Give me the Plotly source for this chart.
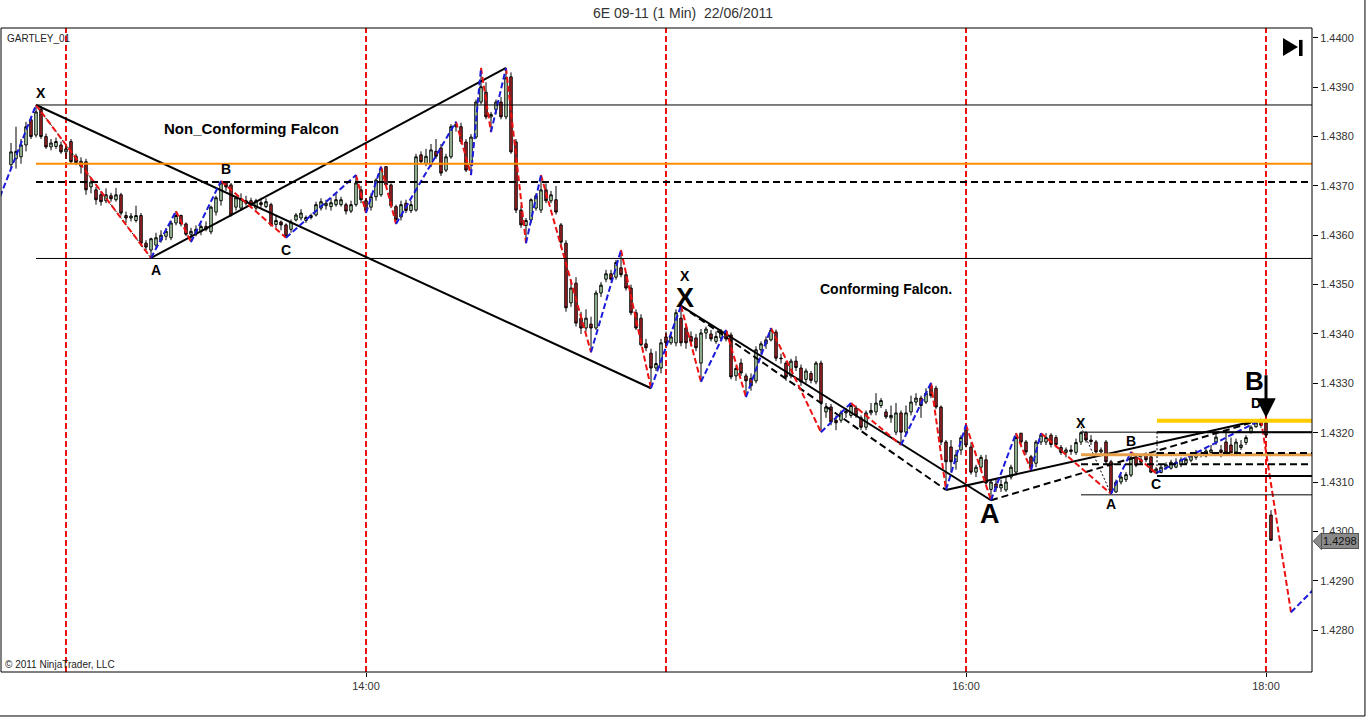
import pandas as pd
import plotly.graph_objects as go

# ---------------- data (prices in pips relative to 1.4300) ----------------
BASE = 1.4300
PIP = 0.0001
T0 = pd.Timestamp("2011-06-22 14:00")
first_bar_min = -71  # first 1-min bar = 12:49

opens_pips = [
    74.3, 75.5, 75.9, 78.3, 83.4, 80.3, 85.5, 80.0, 77.9, 78.0,
    78.3, 76.9, 79.0, 76.0, 74.0, 74.9, 69.8, 69.2, 68.2, 67.0,
    68.0, 67.2, 68.2, 64.0, 63.5, 63.0, 64.0, 58.4, 57.0, 58.0,
    59.0, 59.8, 59.5, 62.5, 64.0, 62.3, 60.2, 60.5, 60.8, 61.8,
    60.7, 64.7, 67.0, 70.8, 70.2, 65.7, 65.5, 66.5, 67.0, 65.5,
    66.6, 65.8, 66.2, 62.2, 62.7, 62.1, 61.2, 63.1, 63.5, 63.0,
    63.6, 64.1, 65.5, 66.0, 65.8, 66.2, 66.2, 66.2, 64.9, 66.2,
    69.2, 67.0, 65.7, 67.8, 68.2, 73.9, 70.2, 65.8, 63.7, 66.5,
    65.0, 65.1, 76.3, 74.5, 74.3, 77.0, 77.7, 73.2, 75.9, 82.0,
    82.0, 78.9, 74.3, 79.9, 87.0, 89.0, 84.0, 85.5, 87.0, 84.0,
    92.1, 78.9, 65.1, 62.0, 63.1, 65.5, 65.1, 69.2, 67.0, 67.2,
    62.1, 58.4, 46.3, 50.3, 43.2, 41.2, 42.0, 41.2, 48.3, 51.1,
    52.2, 51.5, 53.4, 52.0, 49.3, 44.3, 43.2, 38.0, 36.1, 33.1,
    33.1, 39.4, 38.2, 38.2, 43.2, 41.2, 39.5, 39.2, 34.1, 40.2,
    40.0, 38.5, 39.2, 40.5, 39.8, 31.5, 34.1, 31.5, 31.0, 30.5,
    36.8, 38.0, 38.8, 40.4, 35.1, 34.1, 31.5, 34.5, 33.1, 30.8,
    32.0, 30.3, 34.1, 24.2, 25.2, 22.5, 22.5, 24.0, 23.5, 25.0,
    23.0, 21.1, 24.0, 24.2, 25.5, 24.2, 23.0, 20.1, 24.0, 20.1,
    24.2, 26.2, 27.0, 26.2, 29.5, 29.0, 25.2, 18.1, 17.1, 14.1,
    16.5, 20.5, 17.1, 12.0, 13.0, 14.5, 8.5, 9.6, 8.8, 8.4,
    11.0, 12.0, 19.9, 18.1, 15.1, 13.8, 18.1, 18.1, 19.5, 19.0,
    17.0, 16.0, 16.5, 16.0, 18.1, 20.0, 18.5, 18.1, 16.1, 18.1,
    14.1, 8.0, 10.0, 10.5, 11.4, 15.1, 14.5, 15.5, 15.1, 12.0,
    11.9, 13.0, 12.8, 13.0, 13.5, 13.8, 14.4, 15.0, 15.5, 15.3,
    16.0, 18.1, 16.5, 18.1, 17.5, 16.1, 17.0, 18.0, 20.1, 21.2,
    22.0, 22.0, 3.3,
]
highs_pips = [
    78.7, 82.0, 79.5, 83.0, 84.0, 86.4, 86.2, 80.6, 79.5, 79.8,
    79.0, 78.0, 79.5, 76.5, 75.8, 75.5, 71.5, 69.8, 68.8, 69.5,
    68.6, 69.6, 68.6, 64.8, 64.5, 66.0, 64.5, 59.0, 59.5, 60.5,
    61.0, 61.5, 63.0, 64.9, 64.2, 62.6, 61.5, 62.0, 62.2, 62.8,
    66.0, 68.0, 71.0, 70.9, 70.6, 68.0, 68.5, 68.0, 67.6, 67.4,
    67.6, 67.5, 66.6, 64.0, 63.0, 62.4, 63.2, 64.5, 65.3, 64.0,
    64.4, 66.8, 67.5, 67.2, 67.6, 68.5, 67.8, 66.6, 67.0, 72.2,
    70.0, 67.5, 68.5, 71.5, 73.9, 73.9, 70.5, 66.2, 67.0, 67.2,
    67.0, 76.5, 77.0, 77.5, 78.5, 79.5, 78.5, 76.5, 82.5, 83.0,
    82.8, 79.5, 80.5, 87.5, 93.9, 91.0, 85.0, 87.5, 88.0, 93.9,
    93.0, 79.5, 66.0, 63.5, 67.5, 68.5, 72.2, 70.5, 69.0, 70.0,
    62.5, 59.0, 51.0, 51.5, 44.5, 45.0, 43.5, 48.8, 50.5, 53.0,
    53.0, 55.0, 57.0, 52.5, 50.0, 45.0, 44.0, 39.0, 37.0, 36.5,
    39.0, 40.5, 40.5, 45.0, 45.7, 42.0, 40.5, 40.0, 41.0, 41.5,
    40.8, 40.5, 41.0, 40.8, 40.3, 33.5, 35.0, 32.0, 32.0, 37.5,
    38.5, 39.5, 41.2, 40.9, 36.0, 34.5, 35.0, 35.5, 33.8, 33.0,
    32.5, 34.5, 34.6, 26.0, 25.8, 23.5, 24.5, 25.0, 26.0, 25.5,
    23.5, 24.5, 26.0, 28.0, 27.0, 24.8, 25.5, 26.0, 24.5, 25.5,
    27.5, 28.0, 27.5, 29.0, 30.1, 29.5, 25.5, 18.5, 18.5, 16.5,
    19.5, 21.6, 18.0, 13.5, 15.5, 15.5, 10.5, 10.5, 10.5, 11.0,
    13.5, 19.9, 19.9, 18.5, 15.5, 18.5, 19.9, 19.9, 19.9, 19.5,
    17.5, 17.0, 17.5, 18.8, 20.3, 20.3, 19.5, 18.5, 17.0, 18.5,
    14.5, 10.5, 11.5, 12.0, 16.1, 15.8, 15.5, 16.0, 15.8, 13.0,
    13.5, 14.0, 14.5, 14.8, 15.0, 15.0, 15.8, 16.5, 16.5, 16.8,
    17.5, 19.8, 17.5, 20.5, 19.0, 18.8, 18.5, 19.5, 21.5, 22.6,
    22.6, 22.5, 4.3,
]
lows_pips = [
    73.6, 73.5, 74.5, 77.0, 79.5, 79.8, 79.5, 77.5, 77.2, 77.5,
    76.5, 75.5, 74.5, 74.2, 72.5, 68.2, 68.5, 66.2, 66.0, 66.5,
    66.8, 66.8, 64.0, 62.5, 62.8, 62.6, 57.8, 57.0, 55.4, 57.5,
    58.5, 59.0, 59.0, 62.0, 61.8, 59.8, 58.6, 59.8, 60.0, 60.8,
    60.2, 64.0, 66.0, 69.0, 63.8, 65.0, 65.0, 66.0, 65.6, 65.0,
    65.6, 65.5, 61.8, 61.5, 61.0, 59.5, 60.5, 62.8, 63.0, 62.5,
    63.2, 63.8, 65.0, 65.2, 65.0, 65.8, 65.8, 64.2, 64.5, 65.8,
    66.5, 64.5, 65.0, 67.0, 67.8, 69.8, 65.5, 62.3, 63.0, 64.5,
    64.5, 64.8, 74.5, 74.0, 73.8, 75.5, 72.0, 72.8, 75.5, 81.0,
    78.5, 72.8, 72.2, 79.5, 86.5, 83.5, 80.9, 84.5, 83.5, 83.5,
    76.5, 64.5, 61.5, 58.4, 62.5, 65.0, 64.5, 66.5, 66.5, 64.2,
    57.5, 44.5, 45.5, 41.5, 40.0, 40.5, 36.3, 40.8, 47.5, 50.5,
    50.8, 51.0, 51.5, 48.8, 43.8, 40.8, 37.5, 36.5, 29.0, 32.5,
    32.0, 37.5, 37.8, 37.5, 37.5, 37.0, 37.5, 36.5, 30.3, 39.0,
    38.5, 38.0, 38.5, 38.5, 30.8, 30.5, 31.5, 27.2, 28.5, 30.0,
    36.0, 37.0, 38.5, 34.5, 34.0, 30.5, 31.0, 32.5, 29.5, 30.0,
    30.0, 29.8, 20.1, 23.0, 21.5, 20.5, 22.0, 23.0, 23.0, 23.0,
    20.5, 20.5, 23.5, 23.5, 25.0, 22.8, 22.0, 19.5, 17.5, 19.5,
    23.5, 25.5, 23.0, 25.8, 27.0, 24.8, 17.5, 8.4, 12.0, 12.5,
    15.5, 17.0, 11.5, 11.0, 12.5, 9.5, 6.3, 8.0, 8.0, 8.0,
    10.5, 11.5, 17.5, 15.5, 12.4, 13.0, 17.5, 17.5, 17.0, 17.0,
    15.5, 15.0, 15.5, 15.5, 17.5, 18.0, 17.5, 15.5, 15.5, 13.5,
    7.6, 7.8, 9.5, 10.0, 11.0, 13.0, 13.5, 14.0, 11.8, 11.8,
    11.8, 12.5, 12.5, 12.8, 13.0, 13.5, 14.0, 14.5, 15.0, 15.0,
    15.5, 17.5, 15.0, 15.5, 15.5, 15.8, 16.5, 17.5, 19.8, 21.0,
    21.0, 19.0, -1.8,
]
closes_pips = [
    76.9, 77.0, 78.3, 82.0, 80.0, 85.0, 80.0, 77.9, 78.7, 79.0,
    76.9, 77.5, 74.9, 74.7, 75.0, 69.2, 70.8, 67.2, 66.8, 68.2,
    67.4, 68.2, 64.5, 63.5, 63.9, 64.0, 58.4, 57.6, 59.3, 59.5,
    60.0, 60.8, 62.5, 64.0, 62.3, 60.2, 60.8, 61.2, 61.8, 61.2,
    65.7, 67.6, 70.6, 69.8, 64.1, 67.6, 67.4, 67.0, 66.2, 67.0,
    66.2, 66.8, 62.1, 63.0, 62.1, 59.8, 62.7, 64.1, 64.5, 63.6,
    64.0, 66.2, 66.8, 66.5, 66.6, 67.2, 67.2, 64.9, 66.2, 70.6,
    67.2, 65.0, 67.8, 71.2, 73.5, 70.2, 66.0, 63.2, 66.2, 65.0,
    66.2, 75.9, 74.9, 76.0, 77.3, 76.0, 72.6, 75.9, 82.0, 82.5,
    79.0, 73.2, 79.9, 87.0, 90.1, 84.0, 84.5, 87.0, 84.0, 91.9,
    76.9, 65.1, 62.1, 63.0, 67.2, 68.0, 69.2, 67.0, 68.2, 64.7,
    58.6, 45.3, 49.3, 42.2, 41.2, 43.2, 41.2, 48.3, 49.9, 52.2,
    51.1, 54.5, 52.0, 49.3, 44.3, 41.2, 37.8, 37.2, 33.1, 34.0,
    38.2, 38.2, 39.4, 44.3, 38.2, 38.2, 38.5, 37.2, 40.2, 41.0,
    39.0, 39.5, 40.5, 39.0, 31.3, 33.0, 32.1, 30.5, 29.5, 36.8,
    38.0, 38.8, 40.8, 35.1, 35.0, 31.3, 34.5, 33.2, 30.3, 32.5,
    30.6, 34.1, 26.0, 25.2, 22.2, 22.0, 24.0, 24.3, 25.5, 23.5,
    21.1, 24.0, 24.5, 26.0, 26.5, 23.2, 23.5, 24.0, 20.1, 24.0,
    26.2, 27.0, 25.5, 28.0, 27.5, 25.2, 18.1, 14.1, 14.1, 15.5,
    19.0, 17.5, 12.0, 13.0, 15.0, 9.8, 10.0, 8.8, 9.5, 10.0,
    13.0, 19.0, 18.1, 16.1, 13.0, 18.1, 19.5, 19.0, 17.6, 17.6,
    16.0, 16.5, 16.2, 18.0, 20.0, 18.5, 18.2, 16.1, 16.5, 14.1,
    7.8, 10.0, 11.0, 11.5, 14.9, 13.4, 14.0, 14.5, 12.0, 12.6,
    13.0, 13.5, 14.0, 14.0, 14.5, 14.6, 15.3, 16.0, 15.8, 16.3,
    16.5, 19.1, 16.0, 15.9, 15.9, 18.1, 17.5, 19.0, 21.1, 22.0,
    21.5, 19.5, -1.8,
]

# zigzag swing points (minutes from 14:00, pips)
zz_min = [-73.2, -66, -43, -38, -35, -29, -16, -2, 0, 3, 6, 18, 21, 23, 25, 28, 32, 35,
          45, 51, 57, 63, 67, 72, 76, 81, 91, 97, 107, 113, 116, 120, 125, 130, 133, 135,
          149, 153, 158, 179, 185, 193]
zz_pips = [67.8, 86.4, 55.4, 64.9, 58.6, 71.0, 59.5, 72.2, 64.5, 73.9, 62.3, 83.0, 72.2,
           93.9, 80.9, 93.9, 58.4, 72.2, 36.3, 57.0, 29.0, 45.7, 30.3, 40.8, 27.2, 41.2,
           20.1, 26.0, 17.5, 30.1, 8.4, 21.6, 6.3, 19.9, 12.4, 19.9, 7.6, 16.1, 11.8,
           22.6, -16.4, -8.2]

# session separator times (minutes from 14:00)
session_min = [-60, 0, 60, 120, 180]

# pattern legs: (start_min, start_pips, end_min, end_pips, style)
pattern_legs = [
    (-66, 86.4, 57, 29.0, "solid"),
    (-43, 55.4, 28, 93.9, "solid"),
    (63, 45.7, 125, 6.3, "solid"),
    (63, 45.7, 116, 8.4, "dash"),
    (116, 8.4, 179, 22.6, "solid"),
    (125, 6.3, 179, 22.6, "dash"),
]
thin_legs = [
    (-66, 86.4, -43, 55.4),
    (143, 21.2, 149, 7.6),
]

# horizontal levels: (start_min, pips, color, width, dash)
levels = [
    (-66, 86.4, "#000000", 1, "solid"),
    (-66, 74.5, "#ff8c00", 2, "solid"),
    (-66, 70.8, "#000000", 2, "7px,4px"),
    (-66, 55.3, "#000000", 1, "solid"),
    (143, 20.1, "#000000", 1, "solid"),
    (158.2, 20.1, "#000000", 2, "solid"),
    (158.2, 22.4, "#ffcc00", 4, "solid"),
    (143, 15.5, "#e6a04a", 3, "solid"),
    (158.2, 15.9, "#000000", 2, "7px,4px"),
    (143, 13.6, "#000000", 2, "7px,4px"),
    (158.2, 11.2, "#000000", 2, "solid"),
    (143, 7.4, "#000000", 1, "solid"),
]

# text labels: (min, pips, text, size)
labels = [
    (-65, 88.9, "X", 14), (-42, 53.0, "A", 14), (-28, 73.4, "B", 14), (-16, 57.0, "C", 14),
    (-23, 81.6, "Non_Conforming Falcon", 15),
    (63.8, 51.8, "X", 14), (63.8, 47.3, "X", 27),
    (104, 49.1, "Conforming Falcon.", 14),
    (124.8, 3.6, "A", 27),
    (143, 22.0, "X", 14), (149, 5.5, "A", 14), (153, 18.3, "B", 14), (158, 9.6, "C", 14),
    (178, 26.0, "D", 14), (177.6, 30.5, "B", 26),
]

last_price = 1.4298


def px(p):
    return BASE + p * PIP


def tm(m):
    return T0 + pd.Timedelta(minutes=m)


n = len(closes_pips)
times = pd.date_range(tm(first_bar_min), periods=n, freq="min")

x_lo = tm(-73.0)
x_hi = tm(189.2)
y_lo, y_hi = 1.42715, 1.44020

fig = go.Figure()

fig.add_trace(go.Candlestick(
    x=times,
    open=[px(v) for v in opens_pips],
    high=[px(v) for v in highs_pips],
    low=[px(v) for v in lows_pips],
    close=[px(v) for v in closes_pips],
    increasing=dict(fillcolor="#bfeebf", line=dict(color="#000000", width=1)),
    decreasing=dict(fillcolor="#b3262a", line=dict(color="#000000", width=1)),
    whiskerwidth=0,
    showlegend=False,
    hoverinfo="skip",
))

# pattern legs
for (m0, p0, m1, p1, st) in pattern_legs:
    fig.add_trace(go.Scatter(
        x=[tm(m0), tm(m1)], y=[px(p0), px(p1)], mode="lines",
        line=dict(color="#000000", width=2, dash=("solid" if st == "solid" else "7px,4px")),
        showlegend=False, hoverinfo="skip"))
for (m0, p0, m1, p1) in thin_legs:
    fig.add_trace(go.Scatter(
        x=[tm(m0), tm(m1)], y=[px(p0), px(p1)], mode="lines",
        line=dict(color="#000000", width=1, dash="2px,2px"),
        showlegend=False, hoverinfo="skip"))

# zigzag (red down legs, blue up legs)
rx, ry, bx, by = [], [], [], []
for i in range(len(zz_min) - 1):
    seg_x = [tm(zz_min[i]), tm(zz_min[i + 1]), None]
    seg_y = [px(zz_pips[i]), px(zz_pips[i + 1]), None]
    if zz_pips[i + 1] < zz_pips[i]:
        rx += seg_x; ry += seg_y
    else:
        bx += seg_x; by += seg_y
fig.add_trace(go.Scatter(x=rx, y=ry, mode="lines", line=dict(color="#ee1111", width=2, dash="6px,3px"),
                         showlegend=False, hoverinfo="skip", connectgaps=False))
fig.add_trace(go.Scatter(x=bx, y=by, mode="lines", line=dict(color="#1a1adc", width=2, dash="6px,3px"),
                         showlegend=False, hoverinfo="skip", connectgaps=False))

shapes = []
# session lines
for m in session_min:
    shapes.append(dict(type="line", xref="x", yref="paper", x0=tm(m), x1=tm(m), y0=0, y1=1,
                       line=dict(color="#ee1111", width=2, dash="6px,3px"), layer="below"))
# levels
for (m0, p, col, w, d) in levels:
    shapes.append(dict(type="line", xref="x", yref="y", x0=tm(m0), x1=x_hi, y0=px(p), y1=px(p),
                       line=dict(color=col, width=w, dash=d), layer="above"))
# dotted vertical of the small box
shapes.append(dict(type="line", xref="x", yref="y", x0=tm(158.2), x1=tm(158.2), y0=px(20.1), y1=px(11.2),
                   line=dict(color="#000000", width=1, dash="2px,2px")))
# plot frame
shapes.append(dict(type="rect", xref="paper", yref="paper", x0=0, x1=1, y0=0, y1=1,
                   line=dict(color="#000000", width=1)))
# outer frame (right / bottom)
shapes.append(dict(type="line", xref="paper", yref="paper", x0=-0.001, x1=1.0404, y0=-0.0683, y1=-0.0683,
                   line=dict(color="#000000", width=1)))
shapes.append(dict(type="line", xref="paper", yref="paper", x0=1.0404, x1=1.0404, y0=-0.0683, y1=1.05,
                   line=dict(color="#000000", width=1)))
# "play to end" icon
shapes.append(dict(type="path", xref="paper", yref="paper",
                   path="M 0.9779 0.9845 L 0.9779 0.9565 L 0.9893 0.9705 Z",
                   fillcolor="#000000", line=dict(width=0)))
shapes.append(dict(type="rect", xref="paper", yref="paper", x0=0.9901, x1=0.9928, y0=0.9565, y1=0.9815,
                   fillcolor="#000000", line=dict(width=0)))
# last price marker pointer
shapes.append(dict(type="path", xref="paper", yref="y",
                   path=f"M 1.0010 {last_price} L 1.0072 {last_price + 0.00017} L 1.0072 {last_price - 0.00017} Z",
                   fillcolor="#8a8a8a", line=dict(color="#555555", width=1)))

annotations = []
for (m, p, t, s) in labels:
    annotations.append(dict(x=tm(m), y=px(p), xref="x", yref="y", text=f"<b>{t}</b>", showarrow=False,
                            font=dict(size=s, color="#000000", family="Liberation Sans, Arial"),
                            xanchor="center", yanchor="middle"))
# down arrow at D
annotations.append(dict(x=tm(180), y=px(23.0), xref="x", yref="y", ax=0, ay=-44, text="", showarrow=True,
                        arrowhead=2, arrowsize=1.3, arrowwidth=3, arrowcolor="#000000"))
annotations.append(dict(x=0.003, y=0.983, xref="paper", yref="paper", text="GARTLEY_01", showarrow=False,
                        xanchor="left", yanchor="middle", font=dict(size=10, color="#222222")))
annotations.append(dict(x=0.0015, y=0.0109, xref="paper", yref="paper", text="© 2011 NinjaTrader, LLC",
                        showarrow=False, xanchor="left", yanchor="middle", font=dict(size=10, color="#222222")))
annotations.append(dict(x=1.0072, y=last_price, xref="paper", yref="y", text=f"{last_price:.4f}",
                        showarrow=False, xanchor="left", yanchor="middle", bgcolor="#8a8a8a",
                        bordercolor="#555555", borderwidth=1, borderpad=1,
                        font=dict(size=11, color="#111111")))

fig.update_layout(
    width=1366, height=718,
    margin=dict(l=1, r=54, t=28, b=46),
    paper_bgcolor="#ffffff", plot_bgcolor="#ffffff",
    font=dict(family="Liberation Sans, Arial", size=11, color="#333333"),
    title=dict(text="6E 09-11 (1 Min)  22/06/2011", x=0.5, xref="container", xanchor="center",
               y=1 - 13 / 718, yref="container", yanchor="middle",
               font=dict(size=14, color="#333333")),
    showlegend=False,
    shapes=shapes,
    annotations=annotations,
    xaxis=dict(range=[x_lo, x_hi], rangeslider=dict(visible=False), showgrid=False, zeroline=False,
               tickvals=[tm(0), tm(120), tm(180)], ticktext=["14:00", "16:00", "18:00"],
               ticks="outside", ticklen=4, tickcolor="#000000", showline=False,
               tickfont=dict(size=11, color="#333333")),
    yaxis=dict(range=[y_lo, y_hi], side="right", showgrid=False, zeroline=False,
               tickmode="array", tickvals=[round(1.4280 + 0.001 * i, 4) for i in range(13)],
               tickformat=".4f", ticks="outside", ticklen=5, tickcolor="#000000", showline=False,
               tickfont=dict(size=11, color="#333333")),
)

fig.write_html("out.html", config={"displayModeBar": False},
               post_script="document.body.style.margin='0';document.body.style.overflow='hidden';")
